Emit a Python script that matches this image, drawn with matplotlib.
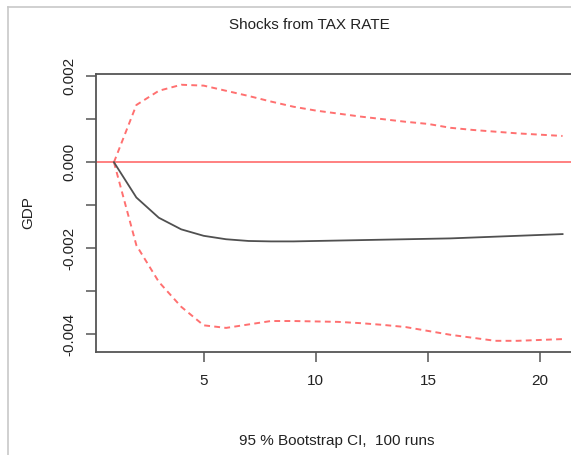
import numpy as np
import matplotlib
matplotlib.use("Agg")
import matplotlib.pyplot as plt
from matplotlib.lines import Line2D

plt.rcParams["font.family"] = ["Liberation Sans", "DejaVu Sans"]

# impulse response of GDP to a TAX RATE shock, with bootstrap bands
horizon = np.arange(1, 22)
irf = [0.0, -0.00082, -0.00129, -0.00156, -0.00171, -0.00179, -0.00183,
       -0.00184, -0.00184, -0.00183, -0.00182, -0.00181, -0.00180,
       -0.00179, -0.00178, -0.00177, -0.00175, -0.00173, -0.00171,
       -0.00169, -0.00167]
upper = [0.0, 0.00133, 0.00166, 0.00180, 0.00178, 0.00166, 0.00154,
         0.00141, 0.00129, 0.00120, 0.00113, 0.00106, 0.00100, 0.00094,
         0.00089, 0.00080, 0.00075, 0.00071, 0.00067, 0.00064, 0.00061]
lower = [0.0, -0.00193, -0.00278, -0.00336, -0.00379, -0.00385, -0.00377,
         -0.00369, -0.00369, -0.00370, -0.00371, -0.00374, -0.00378,
         -0.00383, -0.00392, -0.00401, -0.00408, -0.00415, -0.00415,
         -0.00413, -0.00411]
yticks = [-0.004, -0.003, -0.002, -0.001, 0.0, 0.001, 0.002]
ylabels = ["-0.004", "", "-0.002", "", "0.000", "", "0.002"]
xticks = [5, 10, 15, 20]

W, H = 571, 455
fig = plt.figure(figsize=(W / 100, H / 100), dpi=100, facecolor="white")

# axes box runs past the right edge of the picture (cropped R device)
ax = fig.add_axes([96 / W, (H - 352) / H, (580.5 - 96) / W, (352 - 74) / H])
ax.set_xlim(0.2, 21.8)
ax.set_ylim(-0.00441, 0.00205)

ax.axhline(0, color="#ff8080", lw=1.4, zorder=1)
ax.plot(horizon, upper, color="#ff7070", lw=1.4, ls=(0, (3, 2.2)), zorder=2)
ax.plot(horizon, lower, color="#ff7070", lw=1.4, ls=(0, (3, 2.2)), zorder=2)
ax.plot(horizon, irf, color="#505050", lw=1.3, zorder=3)

for s in ax.spines.values():
    s.set_color("#555555")
    s.set_linewidth(1.3)

ax.set_xticks(xticks)
ax.set_yticks(yticks)
ax.set_yticklabels(ylabels, rotation=90, va="center")
ax.tick_params(axis="both", length=7, width=1.1, color="#555555",
               labelsize=11, labelcolor="#222222")
ax.tick_params(axis="y", pad=7)
ax.tick_params(axis="x", pad=9)

ax.set_ylabel("GDP", fontsize=11, color="#222222", labelpad=20)
fig.text(337 / W, 1 - 441 / H, "95 % Bootstrap CI,  100 runs", ha="center",
         va="center", fontsize=11, color="#222222")
fig.text(309 / W, 1 - 25 / H, "Shocks from TAX RATE", ha="center",
         va="center", fontsize=11, color="#222222")

# light frame of the screenshot
fig.add_artist(Line2D([8 / W, 8 / W], [0, 1 - 7 / H], color="#c8c8c8",
                      lw=1.2, transform=fig.transFigure))
fig.add_artist(Line2D([8 / W, 1], [1 - 7 / H, 1 - 7 / H], color="#c8c8c8",
                      lw=1.2, transform=fig.transFigure))

fig.savefig("out.png", dpi=100, facecolor="white")
